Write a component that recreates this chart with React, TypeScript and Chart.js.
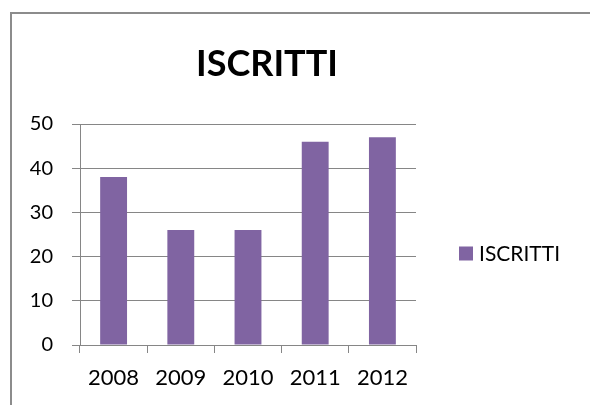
import React, { useEffect, useRef } from "react";
import { Chart, registerables } from "chart.js";

Chart.register(...registerables);

const categories = ["2008", "2009", "2010", "2011", "2012"];
const iscritti = [38, 26, 26, 46, 47];
const seriesLabel = "ISCRITTI";
const titleText = "ISCRITTI";
const yMin = 0;
const yMax = 50;
const yStep = 10;

const FONT = "Lato, 'Open Sans', sans-serif";
const GRID = "#868686";
const BAR = "#8064A2";

const legendPlugin = {
  id: "sideLegend",
  afterDraw(chart: any) {
    const ctx = chart.ctx;
    const ds = chart.data.datasets[0];
    const area = chart.chartArea;
    const cy = (area.top + area.bottom) / 2 + 19;
    const x = area.right + 43;
    ctx.save();
    ctx.fillStyle = ds.backgroundColor;
    ctx.fillRect(x, cy - 7, 14, 14);
    ctx.fillStyle = "#000";
    ctx.font = `21px ${FONT}`;
    ctx.textBaseline = "middle";
    ctx.textAlign = "left";
    ctx.fillText(ds.label, x + 20, cy + 1);
    // title
    ctx.font = `bold 36px ${FONT}`;
    ctx.textAlign = "center";
    ctx.fillText(titleText, 267, 64);
    ctx.restore();
  },
};

export default function App() {
  const ref = useRef<HTMLCanvasElement | null>(null);

  useEffect(() => {
    document.body.style.margin = "0";
    const canvas = ref.current;
    if (!canvas) return;
    const chart = new Chart(canvas, {
      type: "bar",
      data: {
        labels: categories,
        datasets: [
          {
            label: seriesLabel,
            data: iscritti,
            backgroundColor: BAR,
            borderWidth: 0,
            barPercentage: 1,
            categoryPercentage: 0.4,
          },
        ],
      },
      options: {
        responsive: false,
        animation: false,
        devicePixelRatio: 1,
        layout: { padding: { top: 124, left: 0, right: 174, bottom: 0 } },
        plugins: {
          legend: { display: false },
          tooltip: { enabled: false },
          title: { display: false },
        },
        scales: {
          x: {
            offset: true,
            grid: {
              display: true,
              drawOnChartArea: false,
              drawTicks: true,
              tickLength: 8,
              offset: true,
              color: GRID,
            },
            border: { display: true, color: GRID, width: 1 },
            ticks: {
              color: "#000",
              padding: 12,
              maxRotation: 0,
              font: { family: FONT, size: 22 },
            },
            afterFit(scale: any) {
              scale.height = 60;
            },
          },
          y: {
            min: yMin,
            max: yMax,
            grid: {
              display: true,
              drawTicks: true,
              tickLength: 8,
              color: GRID,
            },
            border: { display: true, color: GRID, width: 1 },
            ticks: {
              stepSize: yStep,
              color: "#000",
              padding: 19,
              font: { family: FONT, size: 20 },
            },
            afterFit(scale: any) {
              scale.width = 80;
            },
          },
        },
      },
      plugins: [legendPlugin],
    });
    return () => chart.destroy();
  }, []);

  return (
    <div style={{ position: "relative", width: 590, height: 405, overflow: "hidden", background: "#fff" }}>
      <canvas ref={ref} width={590} height={405} style={{ display: "block", width: 590, height: 405 }} />
      <div
        style={{
          position: "absolute",
          left: 10,
          top: 12,
          width: 700,
          height: 500,
          borderLeft: "2px solid #8c8c8c",
          borderTop: "2px solid #8c8c8c",
          pointerEvents: "none",
        }}
      />
    </div>
  );
}
